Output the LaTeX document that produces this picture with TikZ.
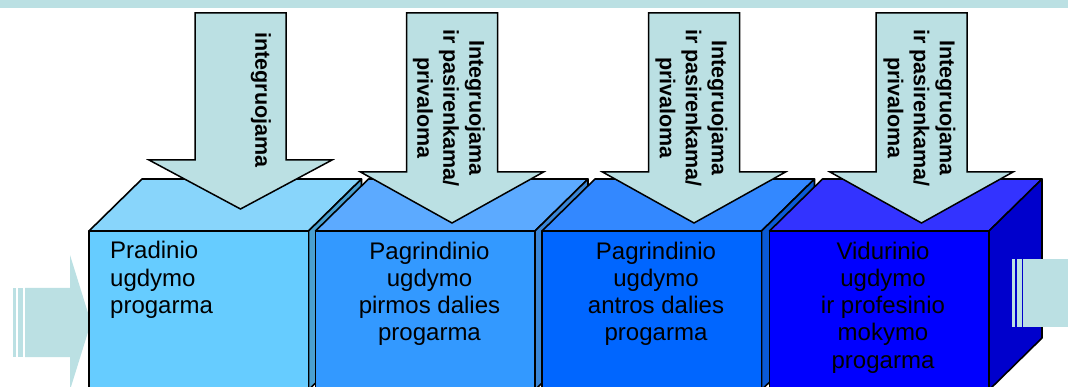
\documentclass[tikz,border=0pt]{standalone}
\usepackage{fontspec}
\setmainfont{Liberation Sans}
\usepackage{xcolor}
\usepackage{tikz}
\usetikzlibrary{positioning}
\definecolor{band}{HTML}{BBE0E3}
\definecolor{frontA}{HTML}{66CCFF}
\definecolor{topA}{HTML}{88D5FB}
\definecolor{sideA}{HTML}{4A9FD0}
\definecolor{frontB}{HTML}{3399FF}
\definecolor{topB}{HTML}{5CAAFF}
\definecolor{sideB}{HTML}{3A86D6}
\definecolor{frontC}{HTML}{0066FF}
\definecolor{topC}{HTML}{3388FF}
\definecolor{sideC}{HTML}{0A5AD6}
\definecolor{frontD}{HTML}{0000FF}
\definecolor{topD}{HTML}{3333FF}
\definecolor{sideD}{HTML}{0000CC}
\tikzstyle{cube} = [draw=black,line width=1.6pt,line join=round]
\tikzstyle{downarrow} = [draw=black,line width=1.5pt,fill=band,line join=miter]
\tikzstyle{boxtext} = [inner sep=0pt,font=\fontsize{24}{27.3}\selectfont]
\tikzstyle{arrowtext} = [inner sep=0pt,rotate=-90,align=center,font=\fontsize{21.5}{26}\selectfont\bfseries]

\begin{document}
\begin{tikzpicture}[x=1pt,y=-1pt]
	\useasboundingbox (0,0) rectangle (1068,387);
	\clip (0,0) rectangle (1068,387);
	
	% Band along the top:
	\fill[band] (0,0) rectangle (1068,8.5);
	
	% Striped arrow coming in from the left (tip goes under the first box):
	\fill[band] (13,288) rectangle (16,357);
	\fill[band] (18,288) rectangle (23,357);
	\fill[band] (25,288) -- (70,288) -- (70,255) -- (91,322.5) -- (70,390) -- (70,357) -- (25,357) -- cycle;
	
	% Boxes:
	% Each one is drawn as top, side and front face; the next box hides most of the side
	\foreach \x/\f/\t/\s in {89/frontA/topA/sideA, 315.5/frontB/topB/sideB, 542/frontC/topC/sideC, 769.5/frontD/topD/sideD}{%
		\filldraw[cube,fill=\t] (\x,231) -- ++(53,-52) -- ++(219.5,0) -- ++(-53,52) -- cycle;
		\filldraw[cube,fill=\s] (\x+219.5,231) -- ++(53,-52) -- ++(0,159) -- ++(-53,52) -- cycle;
		\filldraw[cube,fill=\f] (\x,231) rectangle ++(219.5,159);
	}
	
	% Striped arrow going out on the right:
	\fill[band] (1012,259) rectangle (1015,327);
	\fill[band] (1017,259) rectangle (1022,327);
	\fill[band] (1023,259) rectangle (1070,327);
	
	% Arrows pointing down into the boxes:
	\foreach \c/\b/\p in {240.5/160/209, 452/172/223, 694/172/223, 921.5/172/223}{%
		\filldraw[downarrow] (\c-45.5,13) -- (\c+45.5,13) -- (\c+45.5,\b) -- (\c+91.5,\b)
			-- (\c,\p) -- (\c-91.5,\b) -- (\c-45.5,\b) -- cycle;
	}
	
	% Texts on the fronts (base = baseline of the last line):
	\node[boxtext,anchor=base west,align=left] (prad) at (110,313.6) {Pradinio\\ugdymo\\progarma};
	\node[boxtext,anchor=base,align=center] (pirm) at (429.5,340.9) {Pagrindinio\\ugdymo\\pirmos dalies\\progarma};
	\node[boxtext,anchor=base,align=center] (antr) at (656,340.9) {Pagrindinio\\ugdymo\\antros dalies\\progarma};
	\node[boxtext,anchor=base,align=center] (vidu) at (883,368.2) {Vidurinio\\ugdymo\\ir profesinio\\mokymo\\progarma};
	
	% Texts in the arrows:
	\node[arrowtext] (intA) at (261,100) {integruojama};
	\node[arrowtext] (intB) at (449,108) {Integruojama\\ir pasirenkama/\\privaloma};
	\node[arrowtext] (intC) at (691.5,108) {Integruojama\\ir pasirenkama/\\privaloma};
	\node[arrowtext] (intD) at (919.5,108) {Integruojama\\ir pasirenkama/\\privaloma};
\end{tikzpicture}
\end{document}
